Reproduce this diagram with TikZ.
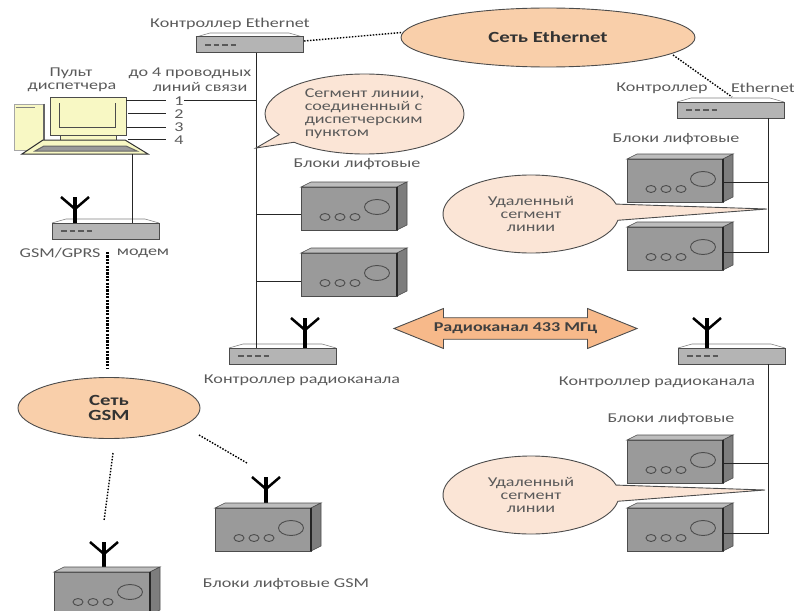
\documentclass[tikz,border=0pt]{standalone}
\usepackage{fontspec}
\setmainfont[FakeStretch=1.34]{Carlito}
\usetikzlibrary{shapes.geometric,shapes.callouts,shapes.arrows}
\definecolor{boxgrey}{HTML}{B4B4B4}
\definecolor{unitgrey}{HTML}{9A9A9A}
\definecolor{unittop}{HTML}{BDBDBD}
\definecolor{unitside}{HTML}{7D7D7D}
\definecolor{netfill}{HTML}{F9CFAA}
\definecolor{callfill}{HTML}{FBE5D6}
\definecolor{arrowfill}{HTML}{F7B98A}
\definecolor{pcyellow}{HTML}{F8F8C4}
\definecolor{txt}{HTML}{5A5A5A}
\tikzset{
  lbl/.style={font=\fontsize{13.5}{13}\selectfont,text=txt,inner sep=0pt,outer sep=0pt},
  wire/.style={draw=black!85,line width=0.9pt},
  dots/.style={draw=black,line width=1.4pt,dash pattern=on 1.5pt off 1.5pt},
  thickdots/.style={draw=black,line width=3pt,dash pattern=on 2.2pt off 1.2pt},
  netnode/.style={ellipse,draw=black!70,line width=0.9pt,fill=netfill,inner sep=0pt,align=center,
     font=\fontsize{15.5}{15}\selectfont\bfseries,text=black!80},
  bubble/.style={ellipse callout,draw=black!70,line width=0.9pt,fill=callfill,inner sep=0pt,
     font=\fontsize{13.5}{13}\selectfont,text=txt},
  boxbody/.style={rectangle,draw=black!70,line width=1pt,fill=boxgrey,inner sep=0pt,outer sep=0pt,minimum width=107pt,minimum height=16pt},
  front/.style={rectangle,draw=black!70,line width=0.8pt,fill=unitgrey,inner sep=0pt,outer sep=0pt,minimum width=96pt,minimum height=43pt},
  flat/.pic={
    \draw[black!50,line width=0.6pt,fill=white] (0,4) -- (14,0) -- (93,0) -- (107,4);
    \node[boxbody,anchor=north west] (-body) at (0,4) {};
    \draw[black!65,line width=2pt,dash pattern=on 5.5pt off 3pt] (9,12) -- (42,12);
  },
  aerial/.pic={
    \draw[black,line width=4pt] (0,0) -- (0,#1);
    \draw[black,line width=2.5pt] (-14,0) -- (0,12) -- (14,0);
  },
  unit/.pic={
    \node[front,anchor=north west] (-front) at (0,0) {};
    \draw[black!70,line width=0.6pt,fill=unittop] (0,0) -- (10,-5) -- (106,-5) -- (96,0) -- cycle;
    \draw[black!70,line width=0.6pt,fill=unitside] (96,0) -- (106,-5) -- (106,38) -- (96,43) -- cycle;
    \draw[black!85,line width=1.2pt] (96,0) -- (96,43);
    \draw[black!70,line width=0.9pt] (76,20) ellipse [x radius=12.5,y radius=7.5];
    \foreach \cx in {24,39,54}{\draw[black!70,line width=0.9pt] (\cx,30) ellipse [x radius=5,y radius=3.5];}
  },
}
\begin{document}
\begin{tikzpicture}[x=1pt,y=-1pt]
\useasboundingbox (0,0) rectangle (794,610);
% ---------- devices
\pic (ceth1) at (196,33) {flat};
\pic (ceth2) at (677,98) {flat};
\pic (crad1) at (229,344) {flat};
\pic (crad2) at (678,344) {flat};
\pic (modem) at (52,219) {flat};
\pic at (305,318) {aerial=30};
\pic at (707,318) {aerial=30};
\pic at (75,197) {aerial=26};
\pic at (266,477) {aerial=26};
\pic at (104,542) {aerial=25};
\pic (u1) at (301,187) {unit};
\pic (u2) at (301,253) {unit};
\pic (u3) at (627,159) {unit};
\pic (u4) at (627,227) {unit};
\pic (u5) at (627,440) {unit};
\pic (u6) at (627,508) {unit};
\pic (g1) at (215,508) {unit};
\pic (g2) at (54,572) {unit};
% ---------- dispatcher PC
\node[rectangle,draw=black!35,line width=0.6pt,fill=pcyellow,minimum width=30pt,minimum height=46pt,inner sep=0pt] (tower) at (29,127) {};
\draw[black!60,line width=2pt] (tower.north east) -- (tower.south east);
\draw[black!50,line width=0.8pt] (16,107) -- (35,107);
\node[rectangle,draw=black!70,line width=0.8pt,fill=pcyellow,minimum width=56pt,minimum height=6pt,inner sep=0pt] (neck) at (88,138) {};
\node[rectangle,draw=black!70,line width=0.9pt,fill=pcyellow,minimum width=76pt,minimum height=38pt,inner sep=0pt] (monitor) at (88,116) {};
\draw[black!70,line width=1pt] (59,103) -- (59,127) -- (115,127) -- (115,103);
\draw[black!80,line width=1pt,fill=pcyellow] (22,154) -- (148,154) -- (125,140) -- (43,140) -- cycle;
\draw[black!60,line width=1pt,fill=unitgrey] (35,151) -- (137,151) -- (126,146) -- (44,146) -- cycle;
\node[inner sep=0pt,outer sep=0pt,minimum width=126pt,minimum height=1pt] (keyboard) at (85,154) {};
% ---------- wires on the left trunk
\coordinate (j0) at (256,100);
\coordinate (j1) at (256,214);
\coordinate (j2) at (256,281);
\coordinate (p1) at (126,100);
\coordinate (p2) at (128,113);
\coordinate (p3) at (127,127);
\coordinate (p4) at (128,139);
\coordinate (q1) at (166,100);
\coordinate (q2) at (166,113);
\coordinate (q3) at (166,127);
\coordinate (q4) at (166,139);
\coordinate (q5) at (184,100);
\node[lbl] (n1) at (179,101) {1};
\node[lbl] (n2) at (179,114) {2};
\node[lbl] (n3) at (179,127) {3};
\node[lbl] (n4) at (179,140) {4};
\draw[wire] (ceth1-body.south -| j0) -- (crad1-body.north -| j0);
\draw[wire] (p1) -- (q1);
\draw[wire] (q5) -- (j0);
\draw[wire] (p2) -- (q2);
\draw[wire] (p3) -- (q3);
\draw[wire] (p4) -- (q4);
\draw[wire] (j1) -- (j1 -| u1-front.west);
\draw[wire] (j2) -- (j2 -| u2-front.west);
\coordinate (mw) at (132,154);
\draw[wire] (mw) -- (modem-body.north -| mw);
% ---------- right trunks
\coordinate (r1) at (768,117);
\coordinate (r2) at (768,182);
\coordinate (r3) at (768,252);
\draw[wire] (ceth2-body.south -| r1) -- (r3) -- (r3 -| u4-front.east);
\draw[wire] (r2) -- (r2 -| u3-front.east);
\coordinate (s1) at (768,364);
\coordinate (s2) at (768,463);
\coordinate (s3) at (768,533);
\draw[wire] (crad2-body.south -| s1) -- (s3) -- (s3 -| u6-front.east);
\draw[wire] (s2) -- (s2 -| u5-front.east);
% ---------- networks
\node[netnode,minimum width=294pt,minimum height=59pt] (eth) at (548,37.5) {Сеть Ethernet};
\node[netnode,minimum width=182pt,minimum height=61pt] (gsm) at (109,408) {Сеть\\GSM};
% ---------- callouts
\coordinate (t1) at (256,148);
\coordinate (t2) at (767,209);
\coordinate (t3) at (765,490);
\node[bubble,minimum width=199pt,minimum height=80pt,align=left,callout absolute pointer={(t1)},callout pointer arc=14] (seg) at (364.5,114) {Сегмент линии,\\соединенный с\\диспетчерским\\пунктом};
\node[bubble,minimum width=176pt,minimum height=78pt,align=center,callout absolute pointer={(t2)},callout pointer arc=24] (rem1) at (531,214) {Удаленный\\сегмент\\линии};
\node[bubble,minimum width=176pt,minimum height=78pt,align=center,callout absolute pointer={(t3)},callout pointer arc=24] (rem2) at (531,495) {Удаленный\\сегмент\\линии};
% ---------- radio arrow
\node[double arrow,draw=black!70,line width=0.9pt,fill=arrowfill,inner xsep=0pt,inner ysep=4pt,minimum width=40pt,minimum height=243pt,
  double arrow head extend=8.5pt,double arrow tip angle=44,font=\fontsize{13.5}{13}\selectfont\bfseries,text=black!75] (radio) at (515.5,328.5) {Радиоканал 433 МГц};
% ---------- dotted links
\coordinate (e1) at (304,41);
\coordinate (e2) at (732,97);
\coordinate (e3) at (673,55);
\draw[dots] (e1) -- (eth.178);
\draw[dots] (e3) -- (e2);
\coordinate (m1) at (107,252);
\coordinate (m2) at (107,369);
\draw[thickdots] (m1) -- (m2);
\coordinate (d0) at (199,435);
\coordinate (d1) at (247,463);
\draw[dots] (d0) -- (d1);
\coordinate (d2) at (104,521);
\coordinate (d3) at (113,453);
\draw[dots] (d3) -- (d2);
% ---------- labels
\node[lbl] (l1) at (230,24) {Контроллер Ethernet};
\node[lbl] (l2) at (71,73) {Пульт};
\node[lbl] (l3) at (72,87.5) {диспетчера};
\node[lbl] (l4) at (190,73) {до 4 проводных};
\node[lbl] (l5) at (200,87) {линий связи};
\node[lbl] (l6) at (60,253) {GSM/GPRS};
\node[lbl] (l7) at (143,253) {модем};
\node[lbl] (l8) at (357,164) {Блоки лифтовые};
\node[lbl] (l9) at (302,380) {Контроллер радиоканала};
\node[lbl] (l10) at (662,88) {Контроллер};
\node[lbl] (l11) at (763,88) {Ethernet};
\node[lbl] (l12) at (676,139) {Блоки лифтовые};
\node[lbl] (l13) at (657,382) {Контроллер радиоканала};
\node[lbl] (l14) at (671,419) {Блоки лифтовые};
\node[lbl] (l15) at (286,584) {Блоки лифтовые GSM};
\end{tikzpicture}
\end{document}
